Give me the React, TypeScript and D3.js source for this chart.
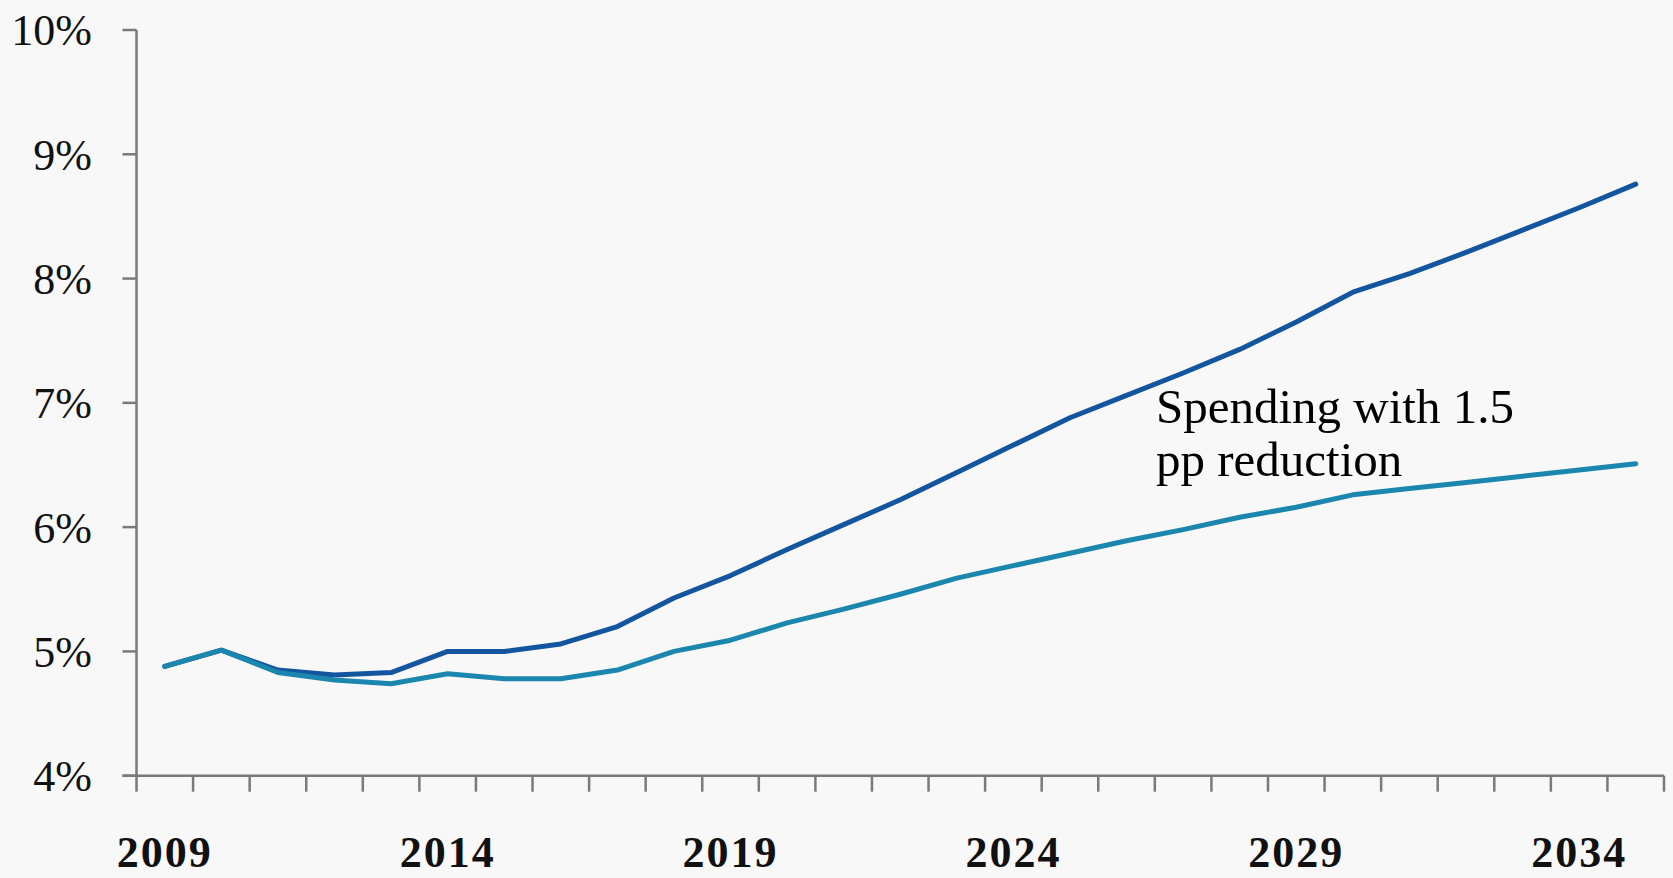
import React from "react";
import * as d3 from "d3";

const years: number[] = [2009,2010,2011,2012,2013,2014,2015,2016,2017,2018,2019,2020,2021,2022,2023,2024,2025,2026,2027,2028,2029,2030,2031,2032,2033,2034,2035];
const baseline: number[] = [4.88,5.01,4.85,4.81,4.83,5.0,5.0,5.06,5.2,5.43,5.61,5.82,6.02,6.22,6.44,6.66,6.88,7.06,7.24,7.43,7.65,7.89,8.04,8.21,8.39,8.57,8.76];
const reduced: number[] = [4.88,5.01,4.83,4.77,4.74,4.82,4.78,4.78,4.85,5.0,5.09,5.23,5.34,5.46,5.59,5.69,5.79,5.89,5.98,6.08,6.16,6.26,6.31,6.36,6.41,6.46,6.51];
const yTicks: number[] = [4,5,6,7,8,9,10];
const xLabelYears: number[] = [2009,2014,2019,2024,2029,2034];
const annotation: string[] = ["Spending with 1.5", "pp reduction"];

const W = 1673, H = 878;
const left = 136.5, right = 1664, top = 30, bottom = 775.7;

export default function App() {
  const x = d3.scaleBand<number>().domain(years).range([left, right]).paddingInner(0).paddingOuter(0);
  const y = d3.scaleLinear().domain([4, 10]).range([bottom, top]);
  const cx = (yr: number) => (x(yr) as number) + x.bandwidth() / 2;
  const line = d3.line<number>().x((_, i) => cx(years[i])).y((d) => y(d));
  const axisColor = "#7a7a7a";
  const font = "'Liberation Serif', 'DejaVu Serif', serif";
  const tickXs = years.map((yr) => x(yr) as number).concat([right]);
  return (
    <svg width={W} height={H} style={{ position: "absolute", left: 0, top: 0, background: "#f8f8f8" }}>
      <rect x={0} y={0} width={W} height={H} fill="#f8f8f8" />
      {/* y axis */}
      <line x1={left} x2={left} y1={top} y2={bottom} stroke={axisColor} strokeWidth={2.5} />
      {yTicks.map((t) => (
        <g key={t}>
          <line x1={left - 14} x2={left} y1={y(t)} y2={y(t)} stroke={axisColor} strokeWidth={2.5} />
          <text x={92} y={y(t)} dy="0.35em" textAnchor="end" fontFamily={font} fontSize={44} fill="#111">{t}%</text>
        </g>
      ))}
      {/* x axis */}
      <line x1={left - 14} x2={right} y1={bottom} y2={bottom} stroke={axisColor} strokeWidth={2.5} />
      {tickXs.map((tx, i) => (
        <line key={i} x1={tx} x2={tx} y1={bottom} y2={bottom + 16} stroke={axisColor} strokeWidth={2.5} />
      ))}
      {xLabelYears.map((yr) => (
        <text key={yr} x={cx(yr)} y={867} textAnchor="middle" fontFamily={font} fontWeight="bold" fontSize={44} letterSpacing={2} fill="#111">{yr}</text>
      ))}
      {/* lines */}
      <path d={line(baseline) || ""} fill="none" stroke="#1455a0" strokeWidth={5} strokeLinejoin="round" strokeLinecap="round" />
      <path d={line(reduced) || ""} fill="none" stroke="#1b86ae" strokeWidth={5} strokeLinejoin="round" strokeLinecap="round" />
      {/* annotation */}
      <text fontFamily={font} fontSize={49} fill="#000">
        {annotation.map((s, i) => (
          <tspan key={i} x={1156} y={423 + i * 53}>{s}</tspan>
        ))}
      </text>
    </svg>
  );
}
